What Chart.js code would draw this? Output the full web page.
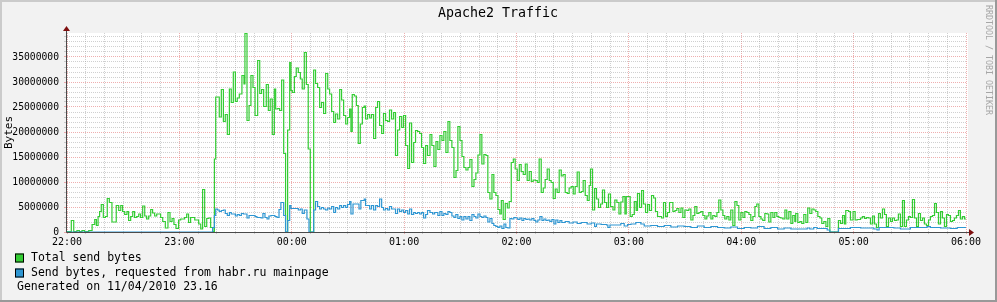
<!DOCTYPE html>
<html><head><meta charset="utf-8">
<script src="https://cdn.jsdelivr.net/npm/chart.js@4.4.1/dist/chart.umd.min.js"></script>
<style>html,body{margin:0;padding:0;background:#f2f2f2;} canvas{display:block;}</style>
</head><body>
<canvas id="c" width="997" height="302" style="width:997px;height:302px"></canvas>
<script>
// ---------- text ----------
const titleText = 'Apache2 Traffic';
const yAxisLabel = 'Bytes';
const seriesNames = ['Total send bytes', 'Send bytes, requested from habr.ru mainpage'];
const footerText = 'Generated on 11/04/2010 23.16';
const watermarkText = 'RRDTOOL / TOBI OETIKER';
const hourLabels = ['22:00','23:00','00:00','01:00','02:00','03:00','04:00','05:00','06:00'];

// ---------- data: minutes since 22:00, values in millions of bytes ----------
const totalMinutes = [0,2.3,3.6,5.3,6.6,8.0,9.4,11.6,13.4,14.8,15.7,16.6,17.4,18.3,19.4,20.5,21.5,22.6,24.0,26.3,27.6,28.7,29.7,30.8,32.0,32.9,34.0,35.1,36.1,37.2,38.3,39.3,40.4,41.5,42.5,43.6,44.7,45.7,46.8,47.9,50.0,51.1,52.5,53.9,55.0,56.1,57.1,58.2,59.6,60.7,62.8,63.9,64.9,66.0,68.2,70.3,71.4,72.4,73.5,74.6,75.6,76.7,77.8,78.7,79.4,81.3,82.4,83.5,84.5,85.6,86.7,87.7,88.8,89.9,90.9,92.0,93.4,94.5,95.0,
96.1,97.2,98.2,99.3,100.4,101.8,102.9,103.9,105.0,106.4,107.5,108.5,109.6,110.7,111.4,112.5,113.5,114.6,115.7,116.7,117.8,118.9,119.6,120.3,121.4,122.4,123.5,124.6,125.6,126.7,127.8,128.8,129.9,131.7,132.7,133.8,134.9,135.9,137.0,138.1,139.2,140.2,141.3,142.4,143.4,144.5,145.6,146.6,147.7,148.8,149.8,150.9,151.6,152.3,153.4,154.5,155.5,156.6,157.7,158.7,159.4,160.5,161.6,162.6,163.7,164.8,165.8,166.9,168.0,169.0,170.1,171.2,172.2,173.3,174.4,175.4,176.5,177.6,178.7,179.7,180.8,181.9,182.9,184.0,185.1,186.1,187.2,188.3,189.3,190.4,191.5,192.5,
193.8,194.8,195.9,197.0,198.0,199.1,200.2,201.2,202.3,203.4,204.4,205.5,206.6,207.7,208.7,209.8,210.9,211.9,213.0,214.1,215.1,216.2,217.3,218.3,219.4,220.5,221.5,222.6,223.7,224.7,225.8,226.9,227.9,229.0,230.1,231.1,231.9,232.9,234.0,235.1,236.1,237.2,238.3,239.3,240.4,241.5,242.5,243.6,244.7,245.7,246.8,247.9,248.9,250.0,251.1,252.1,253.2,254.3,255.3,256.4,257.5,258.5,259.6,260.7,261.7,262.8,263.9,264.9,266.0,267.1,268.1,269.2,270.3,271.3,272.4,273.5,274.6,275.6,276.7,277.8,278.8,279.5,280.6,281.7,282.7,283.8,284.9,285.9,287.0,288.1,289.1,290.2,
291.5,292.5,293.6,294.7,295.7,296.8,297.9,298.6,300.7,301.8,302.9,303.9,304.6,305.7,306.8,307.8,308.9,310.0,311.0,312.1,313.2,314.2,315.3,317.4,318.5,319.6,320.6,321.7,323.5,324.6,325.6,326.7,327.8,328.8,329.9,331.0,332.0,333.1,334.2,335.2,336.3,337.4,338.4,339.5,340.6,341.6,342.7,343.8,344.8,345.9,347.0,348.0,349.1,350.2,351.2,352.3,353.4,354.4,355.5,356.6,357.7,358.7,359.8,360.9,361.9,363.0,364.1,365.1,366.2,367.3,368.3,369.4,370.5,371.5,372.6,373.7,374.7,375.8,376.9,377.9,379.0,380.1,381.1,382.2,383.3,384.3,385.4,386.5,387.5,388.6,
389.1,390.2,391.3,392.3,393.4,394.5,395.5,396.6,397.7,398.8,399.8,400.9,402.0,403.0,404.1,405.2,406.2,407.3,411.9,413.0,414.1,415.1,415.8,417.3,418.3,419.7,420.8,421.9,423.7,424.7,425.8,426.9,427.9,429.0,430.1,431.1,432.2,433.3,434.3,435.4,436.5,437.5,438.6,439.7,440.7,441.8,442.9,443.9,445.0,446.1,447.1,448.2,449.3,450.3,451.4,452.5,453.6,454.6,455.7,456.8,457.8,458.9,460.0,461.0,462.1,463.2,464.2,465.3,466.4,467.4,468.5,469.6,470.6,471.7,472.8,473.8,474.9,476.0,477.0,478.1,479.2,480];
const totalMillions = [0.1,2.3,0.1,0.3,0.1,0.3,0.1,0.3,1.5,2.5,1.3,3.1,4.1,5.5,2.9,3.1,6.7,5.9,2.0,5.3,4.3,5.3,4.1,3.5,4.1,2.3,3.1,4.1,2.9,3.1,3.6,2.9,5.2,3.2,2.6,3.2,4.5,3.8,3.2,3.6,2.9,2.1,0.8,3.9,2.1,2.7,1.5,0.7,2.4,2.6,2.9,3.6,1.9,2.9,2.4,1.6,0.6,8.5,1.1,2.7,2.8,0.9,0.1,14.6,27.0,23.0,28.5,22.1,23.5,19.5,28.6,25.9,32.0,26.1,26.8,27.6,31.3,29.6,39.7,
22.3,25.3,31.3,28.9,23.3,34.3,27.7,28.5,25.1,29.5,24.3,26.6,19.5,28.6,24.6,24.7,24.3,30.4,15.7,0,20.4,33.9,28.3,27.9,31.1,32.8,31.9,30.6,28.6,35.9,29.5,16.6,0,32.4,29.7,28.9,24.9,25.9,23.7,31.7,28.6,27.6,24.1,21.9,23.6,22.6,28.5,26.4,23.3,21.6,22.9,24.6,20.1,27.5,27.2,25.3,17.7,21.6,24.9,25.2,22.6,23.5,22.8,23.5,18.7,24.9,26.1,21.3,19.7,23.7,22.3,22.1,24.4,22.6,23.9,15.3,20.4,23.1,20.9,23.3,17.3,12.7,21.8,13.9,17.9,20.3,20.1,19.7,16.9,13.7,17.3,15.3,
19.5,17.3,13.1,18.1,16.5,19.3,18.3,20.1,15.9,22.1,18.3,16.9,10.9,12.3,21.1,18.3,15.1,12.9,12.4,12.9,14.5,9.1,10.5,11.8,15.4,19.5,13.6,15.5,15.3,7.9,6.6,11.5,7.9,7.3,4.5,3.6,6.3,2.5,5.7,4.8,6.1,13.9,14.6,12.6,10.3,13.5,12.1,11.5,13.6,10.3,12.1,10.1,10.4,10.3,9.9,14.6,7.9,8.8,10.5,12.6,10.3,9.9,6.7,8.6,7.9,12.4,11.2,11.5,7.9,7.7,8.8,9.1,7.6,9.1,12.0,7.9,8.1,10.3,7.3,6.3,9.3,12.6,4.4,8.7,6.6,4.9,5.6,8.4,5.9,4.9,7.6,5.1,
4.4,6.4,5.9,3.6,6.0,7.1,3.6,7.1,3.1,3.5,6.1,4.3,7.7,4.9,8.3,5.6,3.9,5.5,4.3,7.3,6.8,4.1,3.1,2.8,5.9,3.1,3.9,5.9,4.1,4.3,4.7,3.9,4.8,2.9,4.4,4.3,4.6,2.4,3.3,5.1,3.7,3.9,4.1,3.3,2.6,3.2,3.9,2.6,3.3,3.1,3.9,6.4,4.4,3.3,2.6,3.1,2.4,4.4,1.3,6.1,5.3,2.4,3.9,2.9,4.1,3.9,3.5,2.3,3.1,5.1,5.6,3.1,2.6,2.3,3.7,3.6,2.0,3.9,2.9,3.9,3.1,2.9,2.8,2.6,4.4,2.6,4.1,1.7,3.3,2.1,
3.7,1.9,2.1,1.7,3.5,1.9,4.8,3.7,4.6,4.4,4.1,3.1,2.8,1.7,2.1,1.1,2.7,0,2.3,1.7,3.3,1.6,4.3,4.1,2.4,4.1,2.4,2.5,2.8,3.1,2.7,2.9,2.8,1.6,3.2,1.6,0.9,3.7,2.8,4.6,3.5,1.1,2.8,2.1,2.8,2.3,2.4,3.6,1.1,6.3,1.1,2.4,3.1,2.9,6.5,2.8,1.1,3.7,2.3,2.8,1.6,1.3,2.4,3.1,3.3,5.7,3.9,1.6,4.1,2.8,1.1,3.5,3.3,2.1,2.3,2.8,3.3,4.3,2.6,3.1,2.6,2.6];

const habrMinutes = [0,77.8,78.7,79.4,80.4,81.3,82.4,83.5,84.5,85.6,86.7,87.7,89.9,90.9,92.0,93.1,94.2,
96.1,97.2,100.4,101.4,103.6,104.6,105.7,106.8,107.8,108.9,111.0,112.1,113.2,114.2,115.7,116.7,117.8,118.9,119.6,123.5,124.6,125.6,126.7,128.1,129.2,131.7,132.7,133.8,134.9,135.9,137.0,138.1,139.2,140.2,141.3,142.4,143.4,144.5,145.6,146.6,147.7,148.8,149.8,150.9,151.6,152.7,155.9,156.9,158.7,159.4,161.6,162.6,163.7,164.8,165.8,166.9,168.0,169.0,170.1,171.2,172.2,173.3,175.4,176.5,177.6,178.7,179.7,180.8,181.9,182.9,184.0,185.1,186.1,187.2,188.3,189.3,190.4,191.5,192.5,
193.8,195.2,196.3,198.0,199.1,200.2,201.2,202.3,203.4,204.4,205.5,206.6,207.6,208.7,209.8,210.8,211.9,213.0,214.1,215.1,216.2,217.3,218.3,219.4,220.5,221.5,222.6,223.7,224.7,225.8,226.9,227.9,229.0,230.1,231.1,232.2,233.3,234.3,235.4,236.5,237.5,238.6,239.7,240.7,241.8,242.9,243.9,245.0,246.1,247.1,248.2,249.3,250.3,251.4,252.5,253.6,254.6,255.7,256.8,257.8,258.9,260.0,261.0,262.1,263.2,264.2,266.0,268.1,270.3,272.4,274.5,277.7,279.9,281.7,282.7,285.2,288.1,288.8,289.9,
295.7,297.5,299.3,301.1,303.7,306.4,308.2,311.7,315.3,318.9,322.4,326.0,329.5,333.1,336.6,340.2,343.8,347.3,350.9,354.4,358.0,361.6,365.1,368.7,372.2,375.8,379.4,382.9,386.5,
391.6,395.2,396.6,398.7,400.5,405.9,407.3,411.9,418.3,423.7,430.8,432.5,433.6,441.5,445.0,450.3,459.2,461.0,466.4,471.7,475.3,480];
const habrMillions = [0,0.9,3.3,4.6,4.4,4.1,4.3,4.4,3.7,3.3,3.9,3.6,3.2,3.5,3.3,3.7,3.6,
2.8,3.3,3.1,2.9,2.8,3.7,2.9,2.6,3.2,3.3,3.1,2.9,4.5,5.9,3.3,0,2.3,5.3,4.7,4.4,4.6,3.7,4.4,2.6,0,4.4,6.1,5.1,4.6,4.9,4.6,4.4,4.8,4.6,5.1,3.9,4.9,4.6,5.3,4.9,5.3,4.9,5.5,6.1,3.6,5.6,4.6,6.3,6.6,5.3,4.6,5.3,4.4,5.3,5.1,6.6,4.9,4.4,4.7,4.4,5.1,4.6,3.7,4.6,4.1,4.4,3.9,4.3,3.6,4.6,3.5,3.9,3.7,3.9,3.6,3.9,2.8,3.5,4.3,
3.9,3.6,3.9,3.3,4.1,3.3,3.7,3.5,4.1,3.9,3.2,2.9,3.5,2.7,3.1,2.4,3.1,2.6,3.1,2.3,3.5,3.1,2.8,3.6,3.1,2.9,3.2,2.9,2.0,2.7,1.7,1.3,1.1,0.9,1.2,0.7,1.6,0.9,0.8,2.7,2.6,2.9,2.8,2.5,2.8,2.3,2.7,2.5,2.6,2.4,2.7,2.3,2.0,2.4,3.1,2.3,2.6,2.3,2.4,2.1,2.5,1.6,2.4,1.9,2.3,1.9,2.1,1.8,2.0,1.7,1.9,1.6,1.8,1.1,1.6,1.5,1.4,0.9,1.4,
1.7,1.2,1.5,1.6,1.9,1.6,1.2,1.3,1.1,1.3,1.0,1.2,1.1,0.9,1.2,0.9,1.1,0.9,0.8,1.0,0.7,0.9,0.8,1.1,0.7,0.9,0.6,0.8,0.6,
0.6,0.8,0.6,0.9,0.7,0.4,0,0.7,0.9,0.8,0.6,0.4,0.9,0.8,0.6,0.9,1.1,0.9,0.8,0.7,0.9,0.8];

// tick values
const xTickMinutes = Array.from({length: 49}, (_, i) => i * 10);
const yTickMillions = Array.from({length: 40}, (_, i) => i);
const yMaxMillions = 39.8;

const GREEN = '#33cc33';
const BLUE = '#2e96d2';
const FONT = '"DejaVu Sans Mono", monospace';
const MAJOR_GRID = 'rgba(225,110,110,0.55)';
const MINOR_GRID = 'rgba(150,150,150,0.45)';

const toPoints = (ts, vs) => ts.map((t, i) => ({x: t, y: vs[i] * 1e6}));

const rrdPlugin = {
  id: 'rrd',
  beforeDraw(chart) {
    const {ctx, chartArea: a} = chart;
    const W = chart.width, H = chart.height;
    ctx.save();
    ctx.fillStyle = '#f2f2f2';
    ctx.fillRect(0, 0, W, H);
    ctx.fillStyle = '#cbcbcb';
    ctx.fillRect(0, 0, W, 2);
    ctx.fillRect(0, 0, 2, H);
    ctx.fillStyle = '#999999';
    ctx.fillRect(0, H - 2, W, 2);
    ctx.fillRect(W - 2, 0, 2, H);
    ctx.fillStyle = '#ffffff';
    ctx.fillRect(a.left, a.top, a.right - a.left + 2, a.bottom - a.top);
    ctx.restore();
  },
  afterDatasetsDraw(chart) {
    const {ctx, chartArea: a} = chart;
    ctx.save();
    ctx.strokeStyle = '#4a4a4a';
    ctx.lineWidth = 1;
    ctx.beginPath();
    ctx.moveTo(a.left - 0.5, a.bottom + 0.5);
    ctx.lineTo(a.left - 0.5, a.top - 3);
    ctx.moveTo(a.left - 0.5, a.bottom + 0.5);
    ctx.lineTo(a.right + 4, a.bottom + 0.5);
    ctx.stroke();
    ctx.fillStyle = '#7f1010';
    ctx.beginPath();
    ctx.moveTo(a.left - 4, a.top - 2);
    ctx.lineTo(a.left + 3, a.top - 2);
    ctx.lineTo(a.left - 0.5, a.top - 7);
    ctx.closePath();
    ctx.fill();
    ctx.beginPath();
    ctx.moveTo(a.right + 3, a.bottom - 3);
    ctx.lineTo(a.right + 3, a.bottom + 4);
    ctx.lineTo(a.right + 8, a.bottom + 0.5);
    ctx.closePath();
    ctx.fill();
    ctx.restore();
  },
  afterDraw(chart) {
    const {ctx} = chart;
    ctx.save();
    ctx.fillStyle = '#000';
    ctx.textBaseline = 'middle';
    ctx.textAlign = 'center';
    ctx.font = '13.3px ' + FONT;
    ctx.fillText(titleText, 498, 14);
    ctx.textAlign = 'left';
    ctx.font = '11.5px ' + FONT;
    const legendColors = [GREEN, BLUE];
    const rows = [258, 273];
    seriesNames.forEach((name, i) => {
      ctx.fillStyle = legendColors[i];
      ctx.fillRect(15, rows[i] - 4.5, 9, 9);
      ctx.strokeStyle = '#000';
      ctx.lineWidth = 1;
      ctx.strokeRect(15.5, rows[i] - 4, 8, 8);
      ctx.fillStyle = '#000';
      ctx.fillText(name, 31, rows[i]);
    });
    ctx.fillText(footerText, 17, 287);
    ctx.translate(988.5, 5);
    ctx.rotate(Math.PI / 2);
    ctx.fillStyle = '#a6a6a6';
    ctx.font = '8.3px ' + FONT;
    ctx.textAlign = 'left';
    ctx.fillText(watermarkText, 0, 0);
    ctx.restore();
  }
};

const isMajorX = c => c.tick && Math.round(c.tick.value) % 60 === 0;
const isMajorY = c => c.tick && Math.round(c.tick.value / 1e6) % 5 === 0;

new Chart(document.getElementById('c'), {
  type: 'line',
  data: {
    datasets: [
      {label: seriesNames[0], data: toPoints(totalMinutes, totalMillions), borderColor: GREEN, borderWidth: 1.2, stepped: 'before', pointRadius: 0, fill: false, order: 2},
      {label: seriesNames[1], data: toPoints(habrMinutes, habrMillions), borderColor: BLUE, borderWidth: 1.2, stepped: 'before', pointRadius: 0, fill: false, order: 1}
    ]
  },
  options: {
    responsive: false,
    animation: false,
    events: [],
    layout: {padding: {top: 33, right: 31, bottom: 0, left: 0}},
    plugins: {legend: {display: false}, title: {display: false}, tooltip: {enabled: false}},
    scales: {
      x: {
        type: 'linear', min: 0, max: 480,
        afterBuildTicks: s => { s.ticks = xTickMinutes.map(v => ({value: v})); },
        afterFit: s => { s.height = 70; },
        ticks: {
          autoSkip: false, maxRotation: 0, padding: 2, color: '#000',
          font: {family: FONT, size: 10},
          callback: v => (Math.round(v) % 60 === 0 ? hourLabels[Math.round(v) / 60] : '')
        },
        grid: {
          color: c => (isMajorX(c) ? MAJOR_GRID : MINOR_GRID),
          tickColor: c => (isMajorX(c) ? MAJOR_GRID : MINOR_GRID),
          lineWidth: 1, tickLength: 2
        },
        border: {display: false, dash: [1, 1]}
      },
      y: {
        min: 0, max: yMaxMillions * 1e6,
        afterBuildTicks: s => { s.ticks = yTickMillions.map(v => ({value: v * 1e6})); },
        afterFit: s => { s.width = 67; },
        ticks: {
          autoSkip: false, padding: 5, color: '#000',
          font: {family: FONT, size: 9.7},
          callback: v => (Math.round(v / 1e6) % 5 === 0 ? String(Math.round(v)) : '')
        },
        grid: {
          color: c => (isMajorY(c) ? MAJOR_GRID : MINOR_GRID),
          tickColor: c => (isMajorY(c) ? MAJOR_GRID : MINOR_GRID),
          lineWidth: 1, tickLength: 3
        },
        border: {display: false, dash: [1, 1]},
        title: {display: true, text: yAxisLabel, color: '#000', font: {family: FONT, size: 11}, padding: {top: 3, bottom: 0}}
      }
    }
  },
  plugins: [rrdPlugin]
});
</script>
</body></html>
